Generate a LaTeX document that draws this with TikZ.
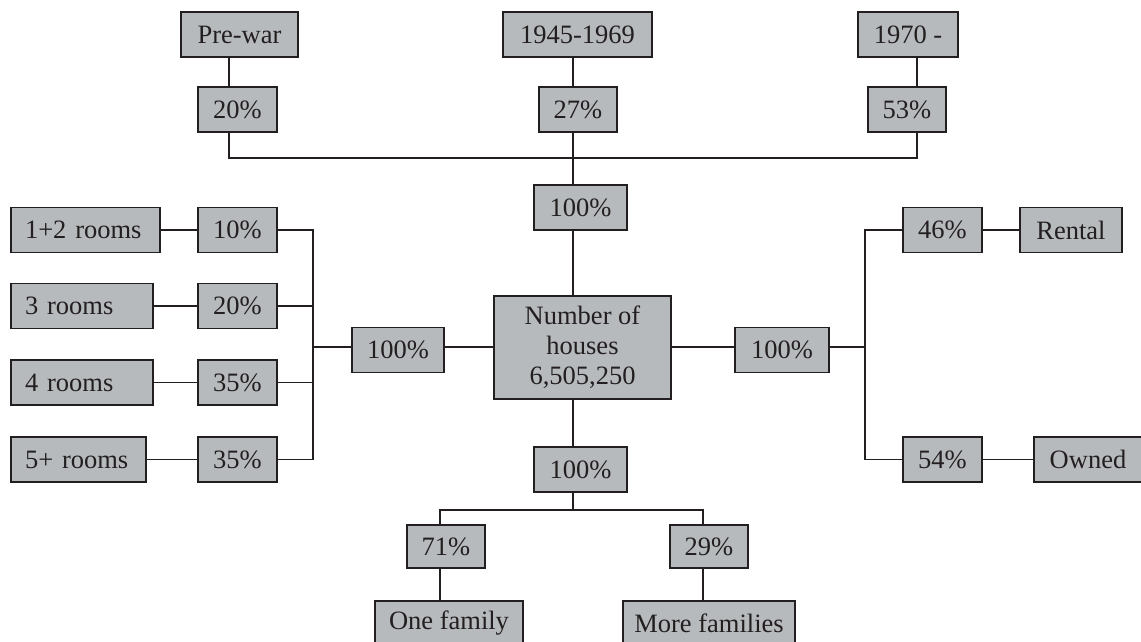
\documentclass[tikz,border=0pt]{standalone}
\usepackage{fontspec}
\setmainfont{Liberation Serif}
\definecolor{boxgray}{RGB}{183,186,189}
\definecolor{inkgray}{RGB}{35,31,32}

\begin{document}
\begin{tikzpicture}[x=1pt, y=-1pt,
    box/.style={draw=inkgray, fill=boxgray, line width=1.6pt, inner sep=0pt,
        minimum height=45pt, text=inkgray, font=\fontsize{26.5}{30}\selectfont},
    roombox/.style={box, align=left, inner xsep=14pt, text width=#1},
    link/.style={draw=inkgray, line width=1.5pt}]
    \useasboundingbox (0,0) rectangle (1141,641);

    % periods
    \node[box, minimum width=117pt] (prewar) at (239.5,34.5) {Pre-war};
    \node[box, minimum width=149pt] (y4569) at (577.5,34.5) {1945-1969};
    \node[box, minimum width=100pt] (y1970) at (908,34.5) {1970 -};
    \node[box, minimum width=79pt] (p20) at (237.5,109.5) {20\%};
    \node[box, minimum width=78pt] (p27) at (578,109.5) {27\%};
    \node[box, minimum width=78pt] (p53) at (907,109.5) {53\%};
    \node[box, minimum width=93pt] (top100) at (580.5,207.5) {100\%};

    % centre
    \node[box, align=center, minimum width=177pt, minimum height=103pt] (center) at (582.5,347.5)
        {Number of\\houses\\6,505,250};

    % rooms
    \node[roombox=121pt] (rooms12) at (85.5,230) {1+2 rooms};
    \node[roombox=114pt] (rooms3) at (82,306) {3 rooms};
    \node[roombox=114pt] (rooms4) at (82,382.5) {4 rooms};
    \node[roombox=107pt] (rooms5) at (78.5,459.5) {5+ rooms};
    \node[box, minimum width=79pt] (lp10) at (237.5,230) {10\%};
    \node[box, minimum width=79pt] (lp20) at (237.5,306) {20\%};
    \node[box, minimum width=79pt] (lp35a) at (237.5,382.5) {35\%};
    \node[box, minimum width=79pt] (lp35b) at (237.5,459.5) {35\%};
    \node[box, minimum width=92pt] (left100) at (398,350) {100\%};

    % ownership
    \node[box, minimum width=94pt] (right100) at (782,350) {100\%};
    \node[box, minimum width=79pt] (rp46) at (942.5,230) {46\%};
    \node[box, minimum width=79pt] (rp54) at (942.5,459.5) {54\%};
    \node[box, minimum width=102pt] (rental) at (1071,230) {Rental};
    \node[box, minimum width=108pt] (owned) at (1088,459.5) {Owned};

    % families
    \node[box, minimum width=93pt] (bot100) at (580.5,469.5) {100\%};
    \node[box, minimum width=78pt, minimum height=43pt] (p71) at (446,546.5) {71\%};
    \node[box, minimum width=78pt, minimum height=43pt] (p29) at (709,546.5) {29\%};
    \node[box, minimum width=148pt] (onefam) at (449,623.5) {One family};
    \node[box, minimum width=172pt] (morefam) at (709,623.5) {More families};

    % bus points
    \coordinate (xpre) at (229,158);
    \coordinate (xmid) at (573,158);
    \coordinate (xnew) at (917,158);
    \coordinate (lbus) at (313,347);
    \coordinate (rbus) at (865,347);
    \coordinate (bmid) at (573,510);
    \coordinate (bone) at (440,510);
    \coordinate (bmore) at (703,510);

    \draw[link] (prewar.south -| xpre) -- (p20.north -| xpre);
    \draw[link] (y4569.south -| xmid) -- (p27.north -| xmid);
    \draw[link] (y1970.south -| xnew) -- (p53.north -| xnew);
    \draw[link] (p20.south -| xpre) -- (xpre) -- (xnew) -- (p53.south -| xnew);
    \draw[link] (p27.south -| xmid) -- (top100.north -| xmid);
    \draw[link] (top100.south -| xmid) -- (center.north -| xmid);

    \draw[link] (rooms12.east) -- (lp10.west);
    \draw[link] (rooms3.east) -- (lp20.west);
    \draw[link] (rooms4.east) -- (lp35a.west);
    \draw[link] (rooms5.east) -- (lp35b.west);
    \draw[link] (lp10.east) -| (lbus);
    \draw[link] (lp20.east) -| (lbus);
    \draw[link] (lp35a.east) -| (lbus);
    \draw[link] (lp35b.east) -| (lbus);
    \draw[link] (lbus) -- (left100.west |- lbus);
    \draw[link] (left100.east |- lbus) -- (center.west |- lbus);

    \draw[link] (center.east |- rbus) -- (right100.west |- rbus);
    \draw[link] (right100.east |- rbus) -- (rbus);
    \draw[link] (rp46.west) -| (rbus);
    \draw[link] (rp54.west) -| (rbus);
    \draw[link] (rp46.east) -- (rental.west);
    \draw[link] (rp54.east) -- (owned.west);

    \draw[link] (center.south -| bmid) -- (bot100.north -| bmid);
    \draw[link] (bot100.south -| bmid) -- (bmid);
    \draw[link] (p71.north -| bone) -- (bone) -- (bmore) -- (p29.north -| bmore);
    \draw[link] (p71.south -| bone) -- (onefam.north -| bone);
    \draw[link] (p29.south -| bmore) -- (morefam.north -| bmore);
\end{tikzpicture}
\end{document}
